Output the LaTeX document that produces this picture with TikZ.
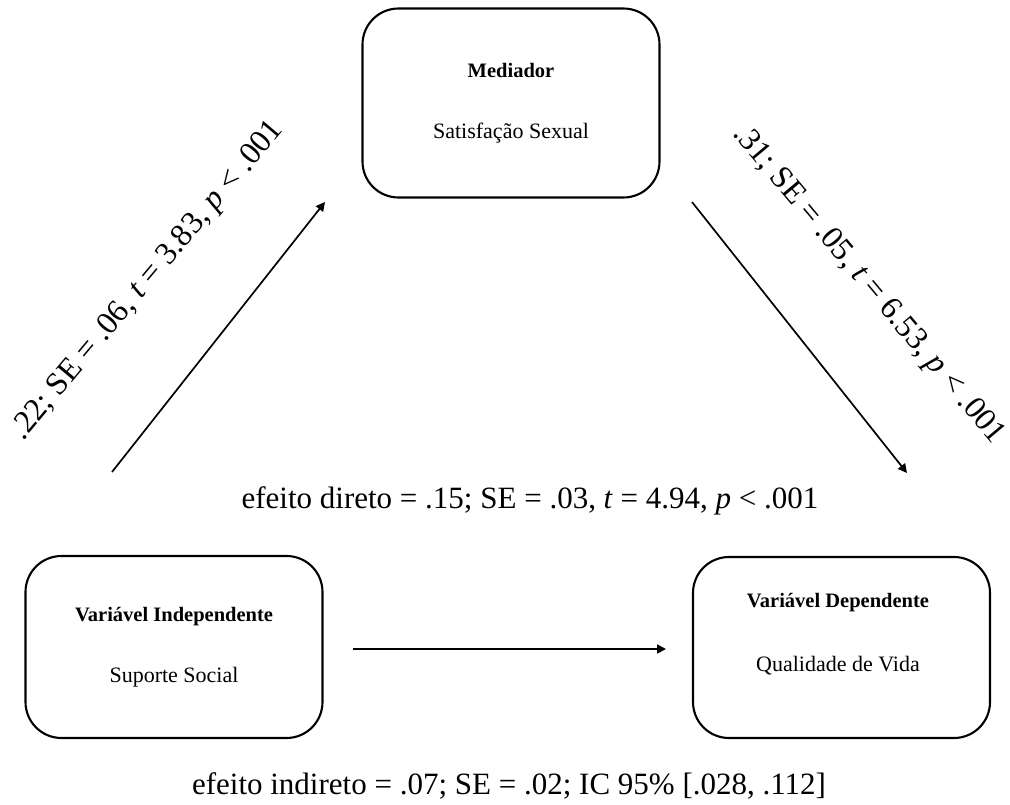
\documentclass[tikz,border=0pt]{standalone}
\usepackage{fontspec}
\setmainfont{Liberation Serif}
\usetikzlibrary{arrows.meta}
\begin{document}
\begin{tikzpicture}[x=1pt,y=-1pt,
  varbox/.style={draw, line width=2.1pt, rounded corners=36pt, inner sep=0pt},
  title/.style={font=\fontsize{20.5}{24}\selectfont\bfseries},
  subtitle/.style={font=\fontsize{22}{26}\selectfont},
  stat/.style={font=\fontsize{31}{36}\selectfont, inner sep=0pt},
  coef/.style={font=\fontsize{32}{36}\selectfont, inner sep=0pt},
  link/.style={line width=1.7pt, -{Triangle[length=9pt,width=9pt]}}
]
\useasboundingbox (0,0) rectangle (1010,805);

% variable boxes
\node[varbox, minimum width=297pt, minimum height=189pt] (med) at (511,103) {};
\node[varbox, minimum width=297pt, minimum height=182pt] (iv) at (174,647) {};
\node[varbox, minimum width=297pt, minimum height=181pt] (dv) at (841.5,647.5) {};

% box contents
\node[title] (medT) at (511,70) {Mediador};
\node[subtitle] (medS) at (511,133) {Satisfação Sexual};
\node[title] (ivT) at (174,617) {Variável Independente};
\node[subtitle] (ivS) at (174,677) {Suporte Social};
\node[title] (dvT) at (838,603) {Variável Dependente};
\node[subtitle] (dvS) at (838,666) {Qualidade de Vida};

% free arrow ends
\coordinate (aS) at (112,472);
\coordinate (aE) at (325,202);
\coordinate (bS) at (692,202);
\coordinate (bE) at (907,473);
\coordinate (cS) at (353,649);
\coordinate (cE) at (666,649);

\draw[link] (aS) -- (aE);
\draw[link] (bS) -- (bE);
\draw[link] (cS) -- (cE);

% path coefficients
\node[coef, rotate=50] (labA) at (148,281) {.22; SE = .06, \textit{t} = 3.83, \textit{p} < .001};
\node[coef, rotate=-50] (labB) at (868,285) {.31; SE = .05, \textit{t} = 6.53, \textit{p} < .001};
\node[stat, anchor=base] (direct) at (530,508) {efeito direto = .15; SE = .03, \textit{t} = 4.94, \textit{p} < .001};
\node[stat, anchor=base] (indirect) at (509,794) {efeito indireto = .07; SE = .02; IC 95\% [.028, .112]};
\end{tikzpicture}
\end{document}
